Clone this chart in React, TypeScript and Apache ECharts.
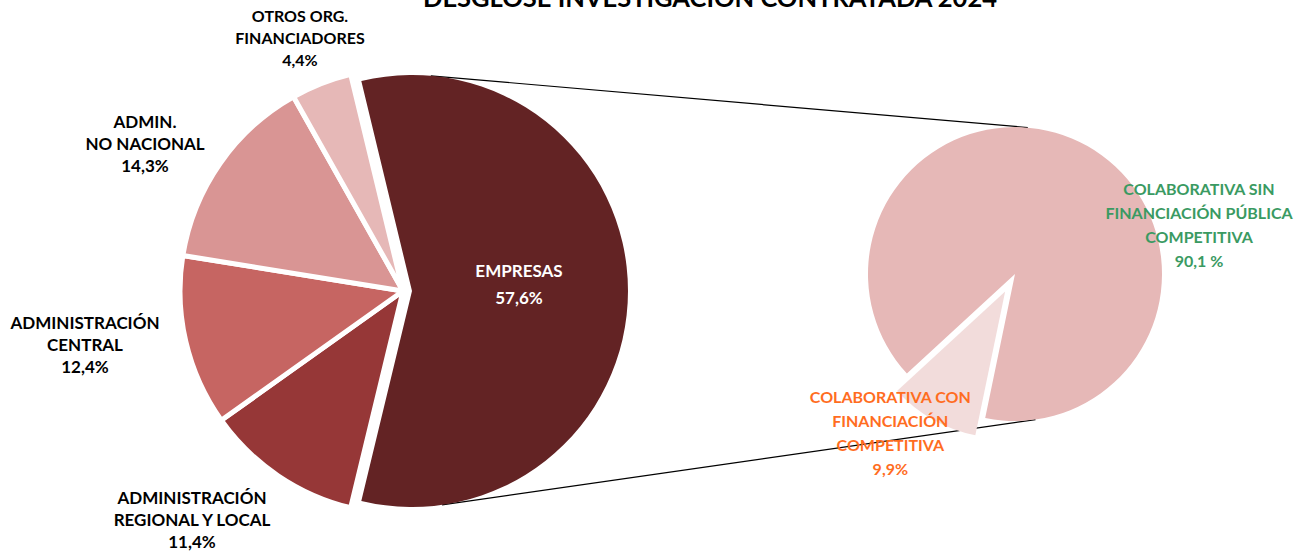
import React, { useEffect, useRef } from "react";
import * as echarts from "echarts";

const mainNames = [
  "EMPRESAS",
  "ADMINISTRACIÓN\nREGIONAL Y LOCAL",
  "ADMINISTRACIÓN\nCENTRAL",
  "ADMIN.\nNO NACIONAL",
  "OTROS ORG.\nFINANCIADORES",
];
const mainValues = [57.6, 11.4, 12.4, 14.3, 4.4];
const mainColors = ["#632324", "#963737", "#C66562", "#D99594", "#E6B8B7"];

const subNames = [
  "COLABORATIVA CON\nFINANCIACIÓN\nCOMPETITIVA",
  "COLABORATIVA SIN\nFINANCIACIÓN PÚBLICA\nCOMPETITIVA",
];
const subValues = [9.9, 90.1];
const subSuffix = ["%", " %"];
const subColors = ["#F2DCDB", "#E6B8B7"];
const subLabelColors = ["#FF6D1F", "#3A9A62"];

const titleText = "DESGLOSE INVESTIGACIÓN CONTRATADA 2024";

// layout (pixels)
const FONT = "Lato";
const mainCenterOthers = [403, 291];
const mainROthers = 223;
const mainCenterEmp = [412, 291];
const mainREmp = 216;
const subCenter = [1015, 274];
const subR = 147;
const mainLabelPos = [
  [519, 284],
  [192, 519],
  [85, 344],
  [145, 143],
  [300, 37],
];
const mainLabelSize = [17, 17, 17, 17, 16];
const subLabelPos = [
  [893, 448],
  [1199, 224],
];

const fmt = (v: number) => String(v).replace(".", ",");

function pt(c: number[], r: number, degFromTop: number) {
  const a = (degFromTop * Math.PI) / 180;
  return [c[0] + r * Math.sin(a), c[1] - r * Math.cos(a)];
}

export default function App() {
  const ref = useRef<HTMLDivElement>(null);
  useEffect(() => {
    document.body.style.margin = "0";
    const chart = echarts.init(ref.current!, null, { renderer: "svg" });
    const total = mainValues.reduce((a, b) => a + b, 0);
    // EMPRESAS centred on 3 o'clock
    const mainStart = (mainValues[0] / total) * 180;

    const mainData = (empOnly: boolean) =>
      mainValues.map((v, i) => {
        const visible = empOnly ? i === 0 : i !== 0;
        return {
          name: mainNames[i],
          value: v,
          itemStyle: visible
            ? { color: mainColors[i], borderColor: "#fff", borderWidth: i === 0 ? 0 : 5 }
            : { color: "rgba(0,0,0,0)", borderWidth: 0 },
          label: { show: visible, fontSize: mainLabelSize[i] },
        };
      });

    const labelCommon = {
      fontFamily: FONT,
      fontWeight: "bold" as const,
      fontSize: 17,
      align: "center" as const,
      overflow: "none" as const,
      width: 400,
    };

    const t1 = pt(mainCenterEmp, mainREmp, 5);
    const b1 = pt(mainCenterEmp, mainREmp, 172);
    const t2 = pt(subCenter, subR, 5);
    const b2 = pt(subCenter, subR, 172);

    const layoutFrom = (arr: number[][]) => (p: any) => {
      const q = arr[p.dataIndex];
      return { x: q[0], y: q[1], align: "center", verticalAlign: "middle" };
    };

    chart.setOption({
      animation: false,
      graphic: [
        {
          type: "text",
          x: 710,
          y: 10,
          z: 10,
          style: {
            text: titleText,
            fontFamily: FONT,
            fontWeight: "bold",
            fontSize: 25.5,
            fill: "#000",
            align: "center",
            verticalAlign: "bottom",
          },
        },
        {
          type: "line",
          z: 0,
          shape: { x1: t1[0], y1: t1[1], x2: t2[0], y2: t2[1] },
          style: { stroke: "#000", lineWidth: 1.2 },
        },
        {
          type: "line",
          z: 0,
          shape: { x1: b1[0], y1: b1[1], x2: b2[0], y2: b2[1] },
          style: { stroke: "#000", lineWidth: 1.2 },
        },
      ],
      series: [
        {
          type: "pie",
          z: 5,
          center: mainCenterOthers,
          radius: mainROthers,
          startAngle: mainStart,
          clockwise: true,
          silent: true,
          data: mainData(false),
          labelLine: { show: false },
          label: {
            ...labelCommon,
            color: "#000",
            lineHeight: 22,
            formatter: (p: any) => `${p.name}\n${fmt(p.value)}%`,
          },
          labelLayout: layoutFrom(mainLabelPos),
        },
        {
          type: "pie",
          z: 6,
          center: mainCenterEmp,
          radius: mainREmp,
          startAngle: mainStart,
          clockwise: true,
          silent: true,
          data: mainData(true),
          labelLine: { show: false },
          label: {
            ...labelCommon,
            color: "#fff",
            lineHeight: 27,
            formatter: (p: any) => `${p.name}\n${fmt(p.value)}%`,
          },
          labelLayout: layoutFrom(mainLabelPos),
        },
        {
          type: "pie",
          z: 5,
          center: subCenter,
          radius: subR,
          startAngle: 258.3,
          clockwise: true,
          silent: true,
          selectedMode: "single",
          selectedOffset: 20,
          data: subValues.map((v, i) => ({
            name: subNames[i],
            value: v,
            selected: i === 0,
            itemStyle: { color: subColors[i] },
            select: { itemStyle: { color: subColors[i] } },
            label: { color: subLabelColors[i] },
          })),
          labelLine: { show: false },
          label: {
            ...labelCommon,
            fontSize: 16,
            lineHeight: 24,
            formatter: (p: any) => `${p.name}\n${fmt(p.value)}${subSuffix[p.dataIndex]}`,
          },
          labelLayout: layoutFrom(subLabelPos),
        },
      ],
    });
    return () => chart.dispose();
  }, []);
  return <div ref={ref} style={{ width: 1301, height: 557 }} />;
}
